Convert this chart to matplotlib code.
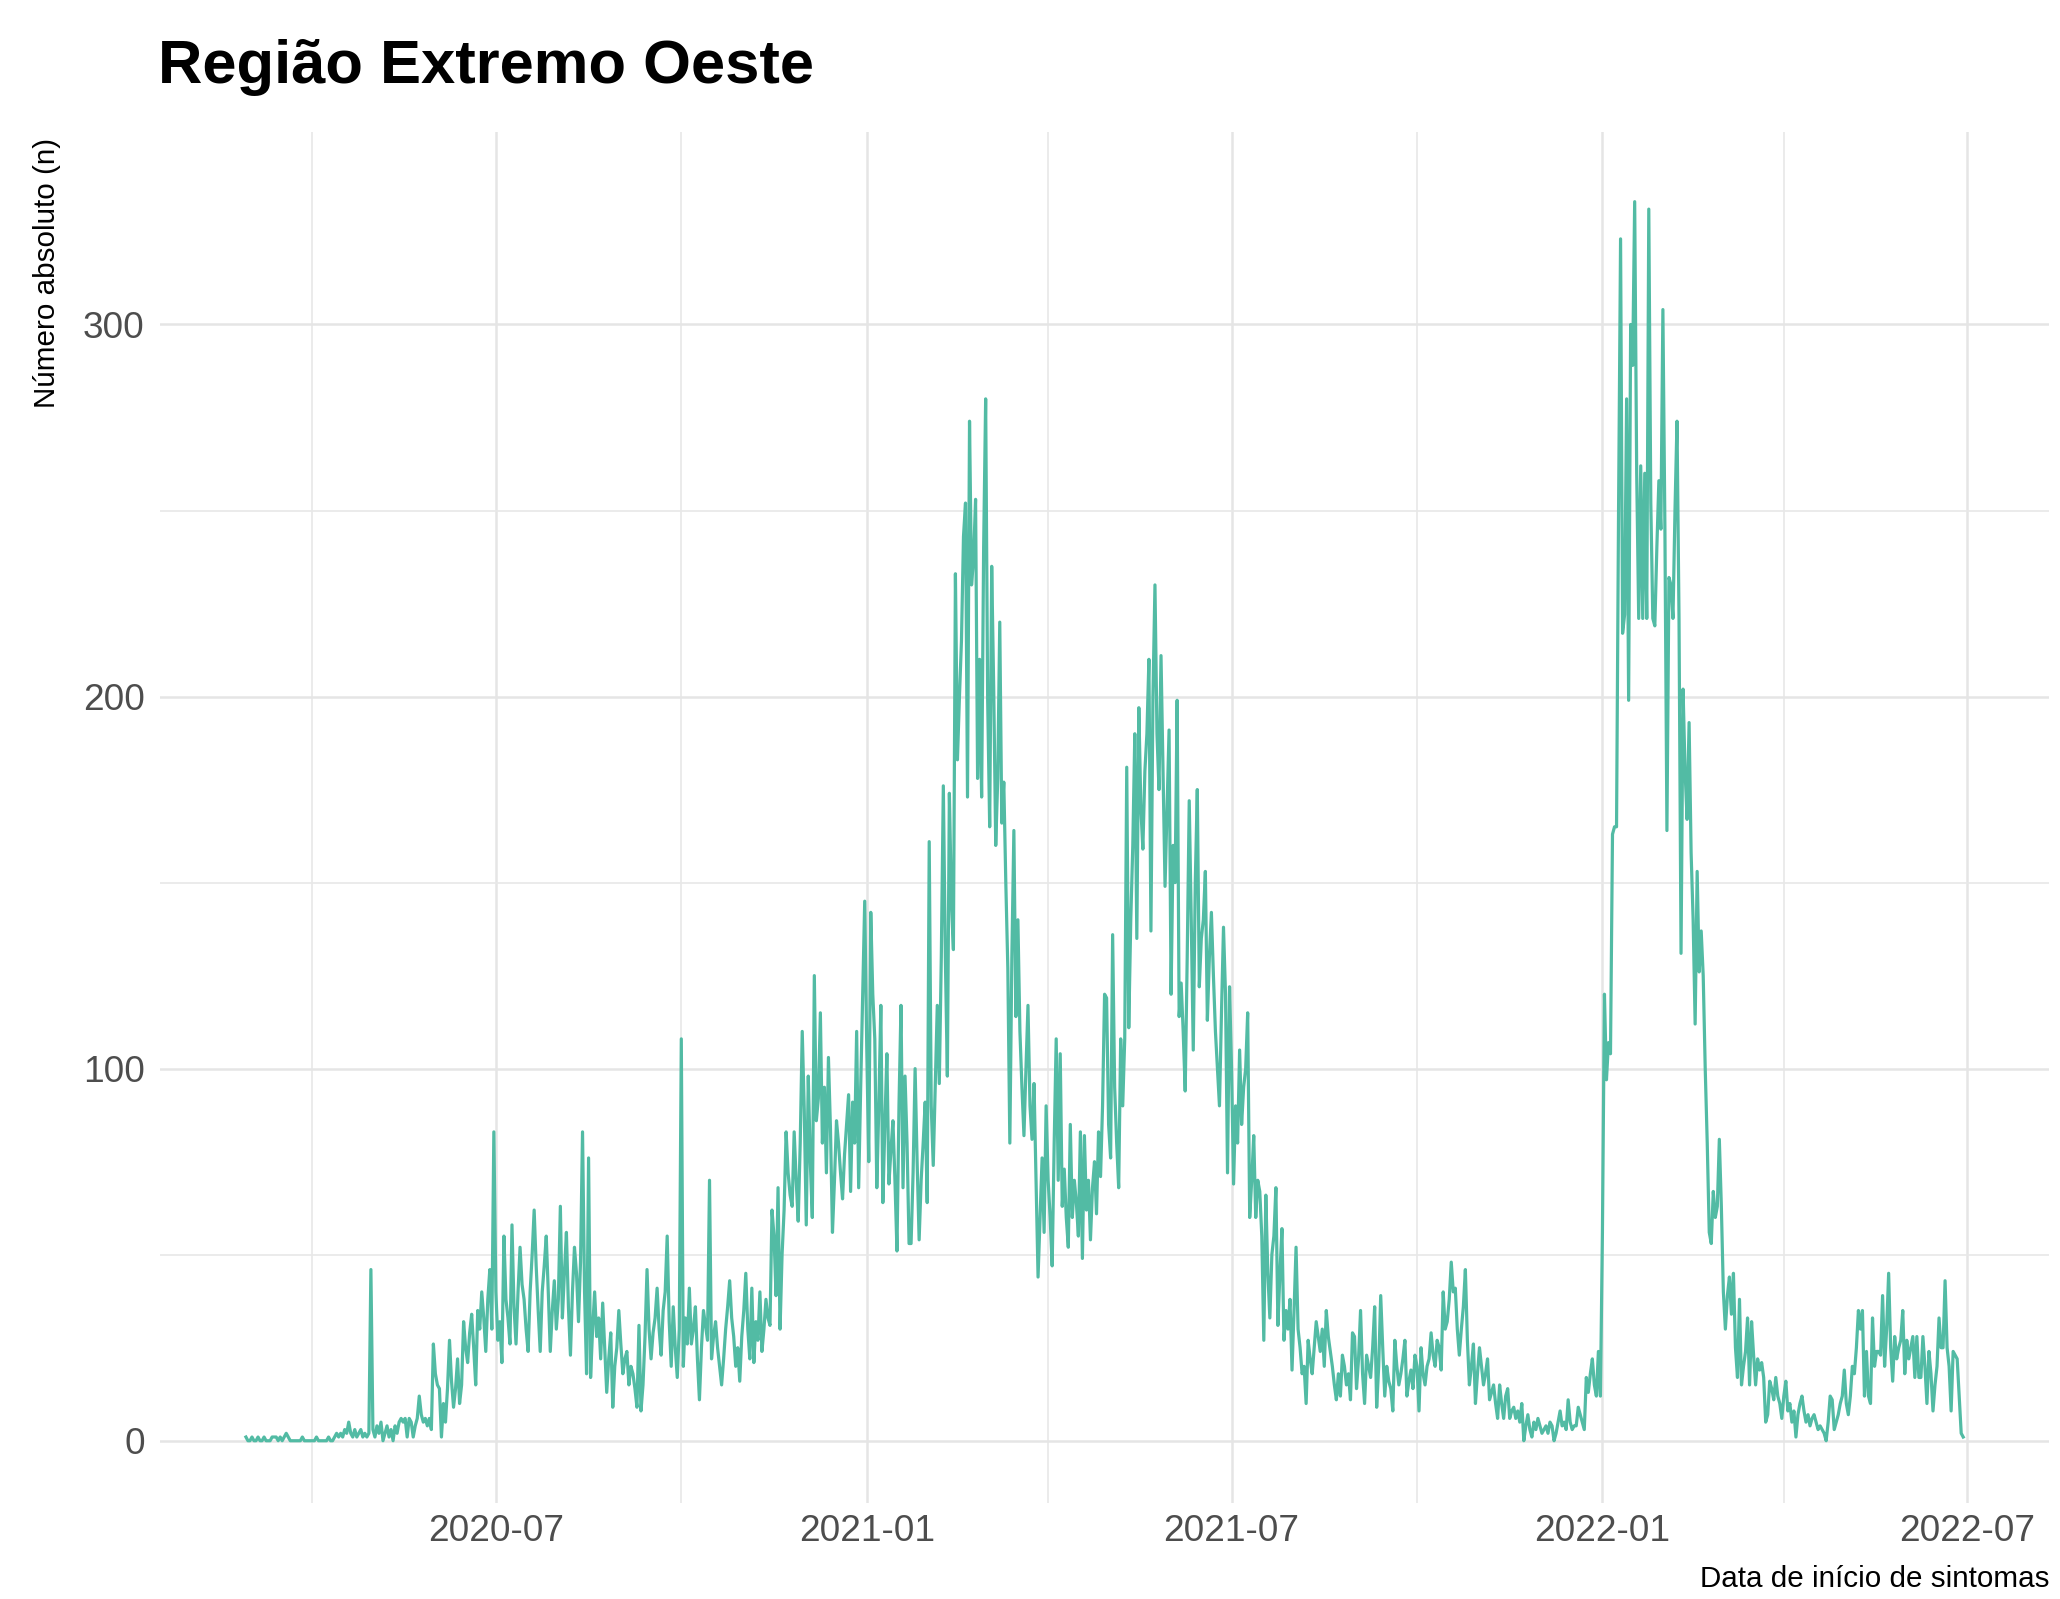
import numpy as np
import pandas as pd
import matplotlib
matplotlib.use("Agg")
import matplotlib.pyplot as plt
import matplotlib.dates as mdates
from matplotlib import font_manager


# Daily counts (first day 2020-02-28)
first_day = "2020-02-28"
casos = [
    1, 0, 0, 1, 0, 0, 1, 0, 0, 1,
    0, 0, 0, 1, 1, 1, 0, 1, 0, 1,
    2, 1, 0, 0, 0, 0, 0, 0, 1, 0,
    0, 0, 0, 0, 0, 1, 0, 0, 0, 0,
    0, 1, 0, 0, 1, 2, 1, 2, 1, 3,
    2, 5, 2, 1, 3, 1, 2, 3, 1, 2,
    1, 2, 46, 3, 1, 4, 2, 5, 0, 2,
    4, 1, 3, 0, 4, 2, 5, 6, 5, 6,
    1, 6, 5, 1, 4, 6, 12, 7, 5, 6,
    4, 6, 3, 26, 18, 15, 14, 1, 10, 5,
    14, 27, 16, 9, 14, 22, 10, 15, 32, 25,
    21, 29, 34, 25, 15, 35, 30, 40, 33, 24,
    38, 46, 30, 83, 40, 27, 32, 21, 55, 38,
    33, 26, 58, 36, 26, 40, 52, 42, 38, 30,
    24, 40, 50, 62, 47, 35, 24, 40, 47, 55,
    40, 24, 35, 43, 30, 38, 63, 33, 45, 56,
    36, 23, 40, 52, 45, 32, 48, 83, 40, 18,
    76, 17, 30, 40, 28, 33, 22, 37, 25, 13,
    22, 29, 9, 20, 25, 35, 26, 18, 22, 24,
    15, 20, 18, 14, 9, 31, 8, 15, 28, 46,
    30, 22, 29, 33, 41, 30, 23, 35, 40, 55,
    32, 20, 36, 25, 17, 30, 108, 20, 33, 26,
    41, 26, 30, 36, 22, 11, 25, 35, 31, 27,
    70, 22, 28, 32, 25, 20, 15, 22, 30, 36,
    43, 33, 28, 20, 25, 16, 28, 35, 45, 30,
    22, 41, 21, 32, 27, 40, 24, 30, 38, 33,
    31, 62, 55, 39, 68, 30, 50, 62, 83, 72,
    66, 63, 83, 70, 59, 80, 110, 89, 58, 98,
    75, 60, 125, 86, 92, 115, 80, 95, 72, 103,
    84, 56, 70, 86, 80, 72, 65, 77, 85, 93,
    67, 91, 80, 110, 68, 95, 120, 145, 106, 75,
    142, 120, 108, 68, 90, 117, 64, 85, 104, 69,
    78, 86, 70, 51, 90, 117, 68, 98, 80, 53,
    53, 72, 100, 75, 54, 70, 80, 91, 64, 161,
    90, 74, 95, 117, 96, 130, 176, 130, 98, 174,
    145, 132, 233, 183, 200, 215, 243, 252, 173, 274,
    230, 237, 253, 178, 210, 173, 240, 280, 199, 165,
    235, 202, 160, 178, 220, 166, 177, 150, 127, 80,
    130, 164, 114, 140, 110, 95, 82, 100, 117, 90,
    81, 96, 70, 44, 60, 76, 56, 90, 70, 60,
    47, 80, 108, 70, 104, 63, 73, 60, 52, 85,
    60, 70, 64, 55, 83, 49, 82, 62, 70, 54,
    68, 75, 61, 83, 71, 90, 120, 119, 85, 76,
    136, 95, 80, 68, 108, 90, 108, 181, 111, 140,
    160, 190, 135, 197, 170, 159, 180, 190, 210, 137,
    200, 230, 190, 175, 211, 180, 149, 170, 191, 120,
    160, 150, 199, 114, 123, 110, 94, 130, 172, 140,
    105, 150, 175, 122, 135, 140, 153, 113, 130, 142,
    125, 110, 100, 90, 115, 138, 120, 72, 122, 100,
    69, 90, 80, 105, 85, 95, 100, 115, 60, 70,
    82, 60, 70, 67, 55, 27, 66, 45, 33, 50,
    55, 68, 31, 45, 57, 27, 35, 30, 38, 19,
    35, 52, 30, 25, 18, 20, 10, 27, 22, 18,
    25, 32, 28, 24, 30, 20, 35, 28, 24, 20,
    15, 11, 18, 12, 23, 20, 15, 18, 11, 29,
    28, 14, 22, 35, 18, 10, 23, 20, 17, 25,
    36, 9, 20, 39, 25, 12, 20, 16, 14, 8,
    27, 20, 15, 18, 22, 27, 12, 16, 19, 14,
    23, 20, 8, 25, 18, 15, 20, 22, 29, 23,
    20, 27, 25, 19, 40, 30, 32, 38, 48, 40,
    41, 30, 23, 30, 36, 46, 27, 15, 20, 26,
    10, 18, 25, 20, 15, 18, 22, 11, 13, 15,
    10, 6, 15, 10, 6, 12, 14, 6, 8, 9,
    6, 8, 5, 10, 0, 4, 7, 3, 1, 5,
    3, 6, 4, 2, 3, 4, 2, 5, 4, 0,
    2, 5, 8, 4, 5, 3, 11, 5, 3, 4,
    4, 9, 7, 5, 3, 17, 13, 18, 22, 15,
    12, 24, 12, 56, 120, 97, 107, 104, 163, 165,
    165, 250, 323, 217, 222, 280, 199, 300, 289, 333,
    260, 221, 262, 221, 260, 221, 331, 252, 221, 219,
    240, 258, 245, 304, 245, 164, 232, 230, 221, 250,
    274, 221, 131, 202, 180, 167, 193, 158, 140, 112,
    153, 126, 137, 125, 100, 80, 56, 53, 67, 60,
    63, 81, 63, 40, 30, 39, 44, 34, 45, 25,
    17, 38, 15, 20, 24, 33, 15, 32, 23, 15,
    22, 19, 21, 17, 5, 7, 16, 14, 11, 17,
    12, 10, 6, 12, 16, 8, 10, 5, 8, 1,
    7, 10, 12, 8, 5, 7, 4, 6, 7, 5,
    3, 4, 3, 2, 0, 5, 12, 11, 3, 5,
    7, 10, 12, 19, 10, 7, 12, 20, 18, 25,
    35, 30, 35, 12, 24, 12, 10, 33, 20, 24,
    24, 23, 39, 20, 30, 45, 25, 16, 28, 22,
    25, 27, 35, 18, 27, 22, 25, 28, 17, 28,
    17, 17, 28, 20, 10, 24, 18, 8, 15, 20,
    33, 25, 25, 43, 25, 20, 8, 24, 23, 22,
    12, 2, 1,
]

y_major = [0, 100, 200, 300]
titulo = "Região Extremo Oeste"
label_y = "Número absoluto (n)"
label_x = "Data de início de sintomas"

# pick the narrow font if it is there, otherwise shrink the sizes a bit
names = {f.name for f in font_manager.fontManager.ttflist}
if "Liberation Sans Narrow" in names:
    fonte = ["Liberation Sans Narrow", "DejaVu Sans"]
    k = 1.0
else:
    fonte = ["Liberation Sans", "DejaVu Sans"]
    k = 0.82
plt.rcParams["font.family"] = fonte

datas = pd.date_range(first_day, periods=len(casos), freq="D")

fig = plt.figure(figsize=(20.6, 15.99), dpi=100)
ax = fig.add_axes([0.0777, 0.06, 0.917, 0.8575])

ax.plot(datas, casos, color="#52BBA4", linewidth=2.3, zorder=3)

# ggplot-like expansion of 5% on both sides
span = datas[-1] - datas[0]
ax.set_xlim(datas[0] - span * 0.05, datas[-1] + span * 0.05)
ax.set_ylim(-16.75, 351.75)

ax.xaxis.set_major_locator(mdates.MonthLocator(bymonth=[1, 7]))
ax.xaxis.set_minor_locator(mdates.MonthLocator(bymonth=[4, 10]))
ax.xaxis.set_major_formatter(mdates.DateFormatter("%Y-%m"))
ax.set_yticks(y_major)
ax.set_yticks([50, 150, 250], minor=True)

ax.grid(which="major", color="#E5E5E5", linewidth=1.8, zorder=0)
ax.grid(which="minor", color="#E8E8E8", linewidth=1.2, zorder=0)
ax.set_axisbelow(True)

for s in ax.spines.values():
    s.set_visible(False)
ax.tick_params(which="both", length=0)
ax.tick_params(axis="x", pad=8, labelsize=32.5 * k, labelcolor="#4D4D4D")
ax.tick_params(axis="y", pad=11, labelsize=32.5 * k, labelcolor="#4D4D4D")

fig.text(158 / 2060, 1 - 83 / 1599, titulo, fontsize=54 * k, fontweight="bold",
         ha="left", va="baseline")
fig.text(47 / 2060, 1 - 138 / 1599, label_y, fontsize=26 * k, rotation=90,
         ha="center", va="top")
fig.text(2050 / 2060, 6 / 1599, label_x, fontsize=26 * k, ha="right", va="bottom")

fig.savefig("out.png", dpi=100)
